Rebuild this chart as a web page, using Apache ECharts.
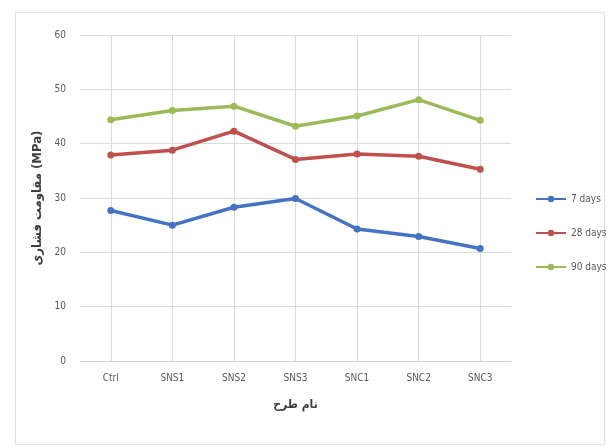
<!DOCTYPE html>
<html><head><meta charset="utf-8">
<script src="https://cdn.jsdelivr.net/npm/echarts@6/dist/echarts.min.js"></script>
<style>html,body{margin:0;padding:0;background:#fff}#c{width:611px;height:448px}</style>
</head><body><div id="c"></div>
<script>
const categories = ['Ctrl','SNS1','SNS2','SNS3','SNC1','SNC2','SNC3'];
const days7  = [27.7, 25.0, 28.3, 29.9, 24.3, 22.9, 20.7];
const days28 = [37.9, 38.8, 42.3, 37.1, 38.1, 37.7, 35.3];
const days90 = [44.4, 46.1, 46.9, 43.2, 45.1, 48.1, 44.3];
const seriesNames = ['7 days','28 days','90 days'];
const yTicks = {min: 0, max: 60, interval: 10};

const chart = echarts.init(document.getElementById('c'));
const fontFam = '"DejaVu Sans Condensed", "DejaVu Sans", sans-serif';
function mk(name, data, color){
  return {name, type:'line', data, symbol:'circle', symbolSize:7,
    lineStyle:{width:3.5, color}, itemStyle:{color}, z:3};
}
chart.setOption({
  animation:false,
  textStyle:{fontFamily:fontFam},
  graphic:[{type:'rect', shape:{x:15.5,y:12.5,width:589,height:432},
    style:{fill:'none', stroke:'#e0e0e0', lineWidth:1}}],
  grid:{left:80, right:100, top:35, bottom:87},
  legend:{orient:'vertical', left:530, top:189, itemGap:24, itemWidth:30, itemHeight:8,
    textStyle:{color:'#595959', fontSize:10, fontFamily:fontFam},
    data:seriesNames},
  xAxis:{type:'category', data:categories, boundaryGap:true,
    axisLine:{lineStyle:{color:'#d0d0d0'}},
    axisTick:{show:false, alignWithLabel:true},
    splitLine:{show:true, alignWithLabel:true, lineStyle:{color:'#dadada'}},
    axisLabel:{color:'#595959', fontSize:10, margin:12},
    name:'نام طرح', nameLocation:'middle', nameGap:38,
    nameTextStyle:{color:'#404040', fontSize:12, fontWeight:'bold'}},
  yAxis:{type:'value', min:yTicks.min, max:yTicks.max, interval:yTicks.interval,
    axisLine:{show:false}, axisTick:{show:false},
    splitLine:{lineStyle:{color:'#dadada'}},
    axisLabel:{color:'#595959', fontSize:10, margin:14},
    name:'مقاومت فشاری (MPa)', nameLocation:'middle', nameGap:36, nameRotate:90,
    nameTextStyle:{color:'#404040', fontSize:13, fontWeight:'bold'}},
  series:[mk(seriesNames[0], days7, '#4472c4'), mk(seriesNames[1], days28, '#c0504d'), mk(seriesNames[2], days90, '#9bbb59')]
});
</script></body></html>
